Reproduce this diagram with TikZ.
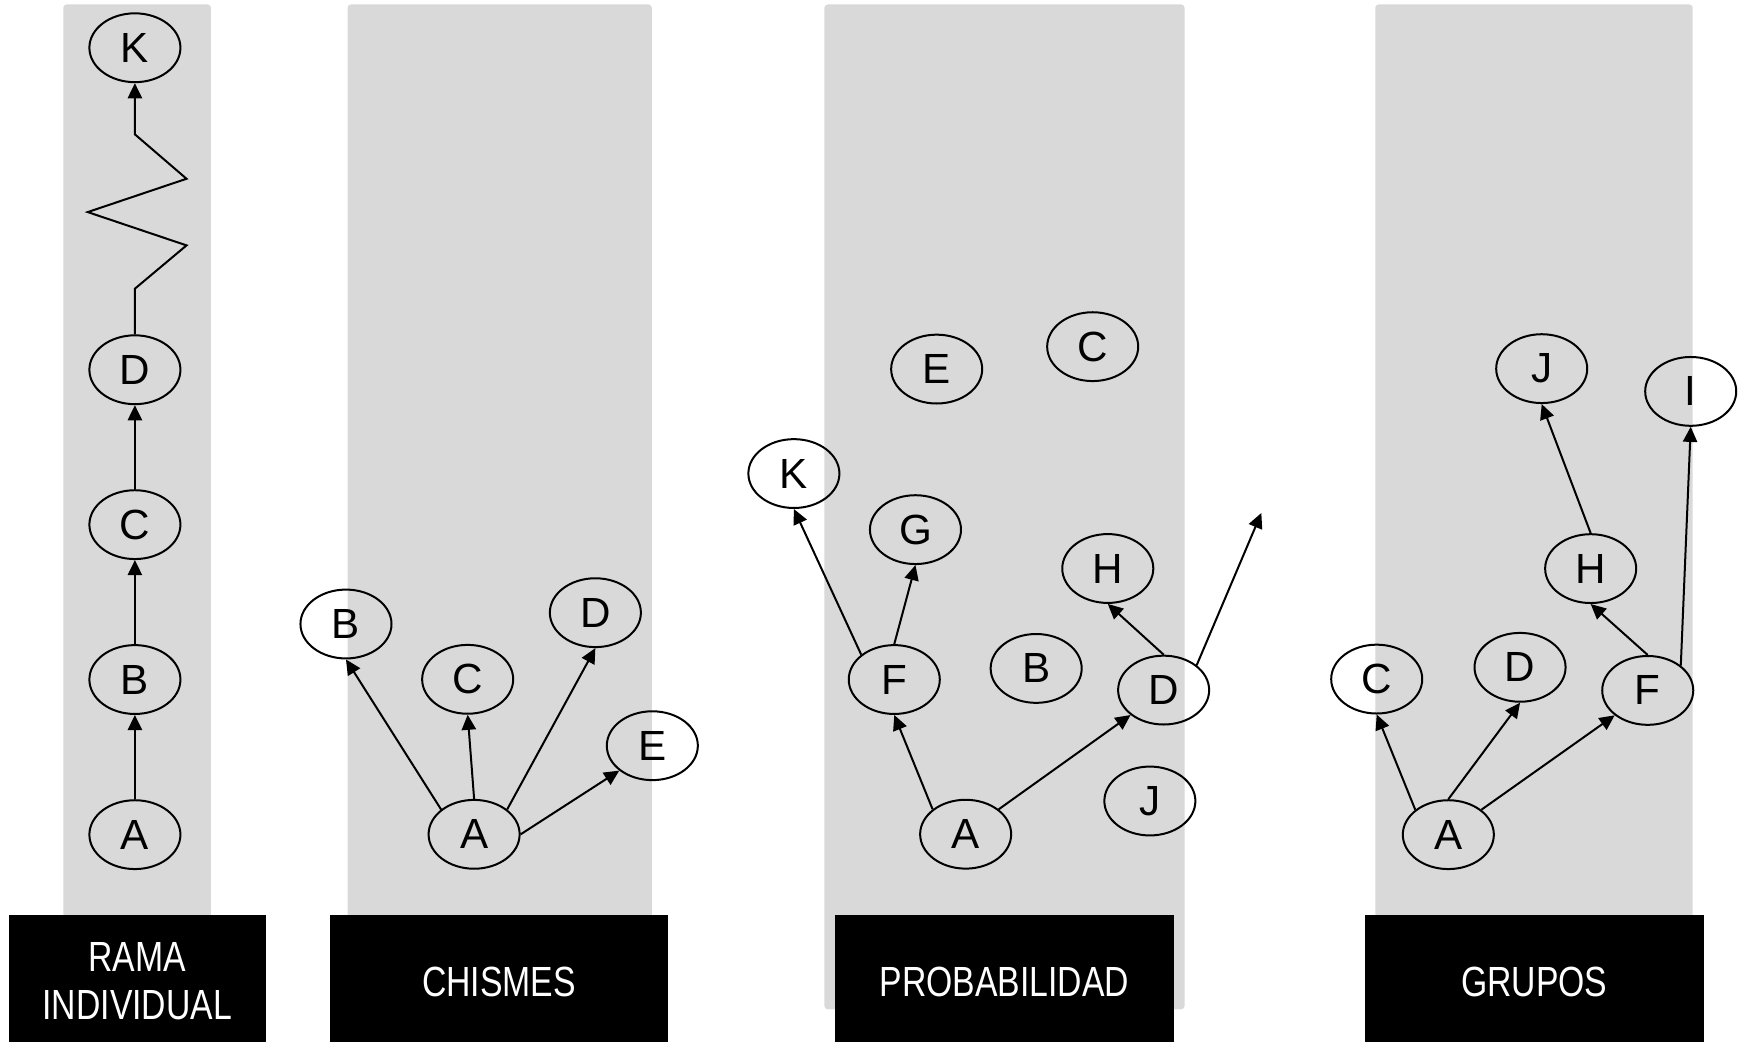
\documentclass[tikz,border=0pt]{standalone}
\usepackage{fontspec}
\setmainfont{Liberation Sans}
\newfontfamily\condfont[FakeStretch=0.8]{Liberation Sans}
\usetikzlibrary{shapes.geometric,arrows.meta}
\definecolor{panelgrey}{RGB}{217,217,217}
\begin{document}
\begin{tikzpicture}[x=0.5pt,y=-0.5pt,
  nd/.style={ellipse,draw,line width=0.9pt,minimum width=41pt,minimum height=31pt,inner sep=0pt,font=\fontsize{19}{19}\selectfont},
  conn/.style={line width=0.9pt,-{Triangle[length=6.8pt,width=6.4pt]}},
  panel/.style={fill=panelgrey,rounded corners=1.5pt},
  labbox/.style={fill=black},
  labtxt/.style={text=white,font=\condfont\fontsize{19}{21.7}\selectfont,align=center,inner sep=0pt}]
\useasboundingbox (0,0) rectangle (1568,938);
% panels
\fill[panel] (57,4) rectangle (190,909);
\fill[panel] (313,4) rectangle (587,909);
\fill[panel] (742.5,4) rectangle (1066.8,909);
\fill[panel] (1238.6,4) rectangle (1524.5,909);
% label boxes
\fill[labbox] (8,824) rectangle (239.3,940);
\fill[labbox] (297.5,824) rectangle (601.5,940);
\fill[labbox] (752,824) rectangle (1057,940);
\fill[labbox] (1229,824) rectangle (1534.5,940);
\node[labtxt] (lab1) at (123.6,883.5) {RAMA\\INDIVIDUAL};
\node[labtxt] (lab2) at (449.5,884) {CHISMES};
\node[labtxt] (lab3) at (904.5,884) {PROBABILIDAD};
\node[labtxt] (lab4) at (1381.7,884) {GRUPOS};
% panel 1
\node[nd] (p1K) at (121.5,43) {K};
\node[nd] (p1D) at (121.5,333) {D};
\node[nd] (p1C) at (121.5,472.5) {C};
\node[nd] (p1B) at (121.5,612) {B};
\node[nd] (p1A) at (121.5,751.7) {A};
\coordinate (z1) at (121.5,260);
\coordinate (z2) at (168,221);
\coordinate (z3) at (79,191);
\coordinate (z4) at (168,161);
\coordinate (z5) at (121.5,121);
\draw[conn] (p1A.north) -- (p1B.south);
\draw[conn] (p1B.north) -- (p1C.south);
\draw[conn] (p1C.north) -- (p1D.south);
\draw[conn] (p1D.north) -- (z1) -- (z2) -- (z3) -- (z4) -- (z5) -- (p1K.south);
% panel 2
\node[nd] (p2B) at (311.6,562) {B};
\node[nd] (p2C) at (421.2,611.8) {C};
\node[nd] (p2D) at (536.2,551.8) {D};
\node[nd] (p2E) at (587.5,671.6) {E};
\node[nd] (p2A) at (427,751.4) {A};
\draw[conn] (p2A.143) -- (p2B.south);
\draw[conn] (p2A.north) -- (p2C.south);
\draw[conn] (p2A.37) -- (p2D.south);
\draw[conn] (p2A.east) -- (p2E.217);
% panel 3
\node[nd] (p3E) at (843.6,332.4) {E};
\node[nd] (p3C) at (984.1,312.2) {C};
\node[nd] (p3K) at (715,426.5) {K};
\node[nd] (p3G) at (824.5,477) {G};
\node[nd] (p3H) at (997.7,512) {H};
\node[nd] (p3B) at (933.2,602) {B};
\node[nd] (p3F) at (805.4,612) {F};
\node[nd] (p3D) at (1048,621.5) {D};
\node[nd] (p3J) at (1035.6,721.4) {J};
\node[nd] (p3A) at (869.7,751.3) {A};
\coordinate (p3X) at (1136,462);
\draw[conn] (p3A.143) -- (p3F.south);
\draw[conn] (p3A.37) -- (p3D.217);
\draw[conn] (p3F.143) -- (p3K.south);
\draw[conn] (p3F.north) -- (p3G.south);
\draw[conn] (p3D.north) -- (p3H.south);
\draw[conn] (p3D.37) -- (p3X);
% panel 4
\node[nd] (p4J) at (1388.5,332) {J};
\node[nd] (p4I) at (1522.7,352.5) {I};
\node[nd] (p4H) at (1432.6,512.1) {H};
\node[nd] (p4C) at (1239.9,611.6) {C};
\node[nd] (p4D) at (1369,601) {D};
\node[nd] (p4F) at (1484,621.8) {F};
\node[nd] (p4A) at (1304.4,751.7) {A};
\draw[conn] (p4A.143) -- (p4C.south);
\draw[conn] (p4A.north) -- (p4D.south);
\draw[conn] (p4A.37) -- (p4F.217);
\draw[conn] (p4F.north) -- (p4H.south);
\draw[conn] (p4F.37) -- (p4I.south);
\draw[conn] (p4H.north) -- (p4J.south);
\end{tikzpicture}
\end{document}
